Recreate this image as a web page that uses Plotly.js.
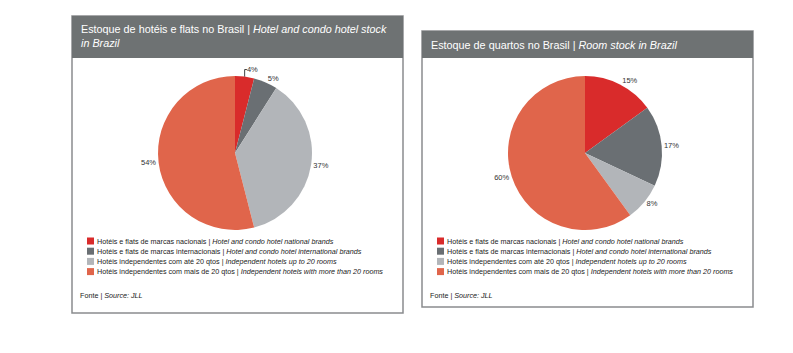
<!DOCTYPE html>
<html>
<head>
<meta charset="utf-8">
<script src="https://cdn.plot.ly/plotly-3.0.1.min.js"></script>
<style>html,body{margin:0;padding:0;background:#fff;}#chart{width:793px;height:353px;}</style>
</head>
<body>
<div id="chart"></div>
<script>
// Data
var categoriesPt = [
  "Hotéis e flats de marcas nacionais",
  "Hotéis e flats de marcas internacionais",
  "Hotéis independentes com até 20 qtos",
  "Hotéis independentes com mais de 20 qtos"
];
var categoriesEn = [
  "Hotel and condo hotel national brands",
  "Hotel and condo hotel international brands",
  "Independent hotels up to 20 rooms",
  "Independent hotels with more than 20 rooms"
];
var hotelStock = [4, 5, 37, 54];
var roomStock = [15, 17, 8, 60];
var sliceColors = ["#d92b2b", "#6a6f73", "#b2b5b9", "#e0654b"];
var titleLeftPt = "Estoque de hotéis e flats no Brasil";
var titleLeftEn1 = "Hotel and condo hotel stock";
var titleLeftEn2 = "in Brazil";
var titleRightPt = "Estoque de quartos no Brasil";
var titleRightEn = "Room stock in Brazil";
var sourcePt = "Fonte";
var sourceEn = "Source: JLL";

var W = 793, H = 353;
var FONT = "Liberation Sans, Arial, sans-serif";
var labels = categoriesPt.map(function(p, i){ return p + " | " + categoriesEn[i]; });

function pieTrace(vals, cx, cy, hw, hh) {
  return {
    type: "pie",
    values: vals,
    labels: labels,
    sort: false,
    direction: "clockwise",
    rotation: 0,
    marker: {colors: sliceColors, line: {width: 0}},
    texttemplate: "%{value}%",
    textposition: "outside",
    textfont: {family: FONT, size: 7.5, color: "#333333"},
    showlegend: false,
    hoverinfo: "none",
    domain: {x: [(cx - hw) / W, (cx + hw) / W], y: [1 - (cy + hh) / H, 1 - (cy - hh) / H]}
  };
}

var panels = [
  {x0: 72, x1: 403, y0: 16, hy: 58, y1: 313, cx: 235, cy: 153,
   title: titleLeftPt + " | <i>" + titleLeftEn1 + "</i><br><i>" + titleLeftEn2 + "</i>", ty: 36,
   legX: 87, legY: 241, srcY: 295},
  {x0: 422, x1: 753, y0: 31, hy: 58, y1: 307, cx: 585, cy: 153,
   title: titleRightPt + " | <i>" + titleRightEn + "</i>", ty: 45,
   legX: 437, legY: 241, srcY: 295}
];

var shapes = [], annotations = [];
panels.forEach(function(p) {
  shapes.push({type: "rect", xref: "x", yref: "y", x0: p.x0, x1: p.x1, y0: p.y0, y1: p.y1,
    line: {color: "#8a8c8e", width: 1.5}, fillcolor: "rgba(0,0,0,0)"});
  shapes.push({type: "rect", xref: "x", yref: "y", x0: p.x0, x1: p.x1, y0: p.y0, y1: p.hy,
    line: {width: 0}, fillcolor: "#6e7273"});
  annotations.push({xref: "x", yref: "y", x: p.x0 + 7, y: p.ty, xanchor: "left", yanchor: "middle",
    align: "left", showarrow: false, text: p.title,
    font: {family: FONT, size: 10.8, color: "#ffffff"}});
  labels.forEach(function(l, i) {
    var yy = p.legY + i * 10.2;
    shapes.push({type: "rect", xref: "x", yref: "y", x0: p.legX, x1: p.legX + 7, y0: yy - 3.5, y1: yy + 3.5,
      line: {width: 0}, fillcolor: sliceColors[i]});
    annotations.push({xref: "x", yref: "y", x: p.legX + 8, y: yy, xanchor: "left", yanchor: "middle",
      showarrow: false, text: categoriesPt[i] + " | <i>" + categoriesEn[i] + "</i>",
      font: {family: FONT, size: 7.2, color: "#222222"}});
  });
  annotations.push({xref: "x", yref: "y", x: p.x0 + 6, y: p.srcY, xanchor: "left", yanchor: "middle",
    showarrow: false, text: sourcePt + " | <i>" + sourceEn + "</i>",
    font: {family: FONT, size: 7.2, color: "#222222"}});
});

var data = [
  pieTrace(hotelStock, panels[0].cx, panels[0].cy, 110, 77),
  pieTrace(roomStock, panels[1].cx, panels[1].cy, 110, 77)
];

var layout = {
  width: W, height: H,
  margin: {l: 0, r: 0, t: 0, b: 0},
  paper_bgcolor: "#ffffff", plot_bgcolor: "rgba(0,0,0,0)",
  xaxis: {range: [0, W], visible: false, fixedrange: true},
  yaxis: {range: [H, 0], visible: false, fixedrange: true},
  shapes: shapes,
  annotations: annotations,
  showlegend: false
};

Plotly.newPlot("chart", data, layout, {staticPlot: true, displayModeBar: false});
</script>
</body>
</html>
